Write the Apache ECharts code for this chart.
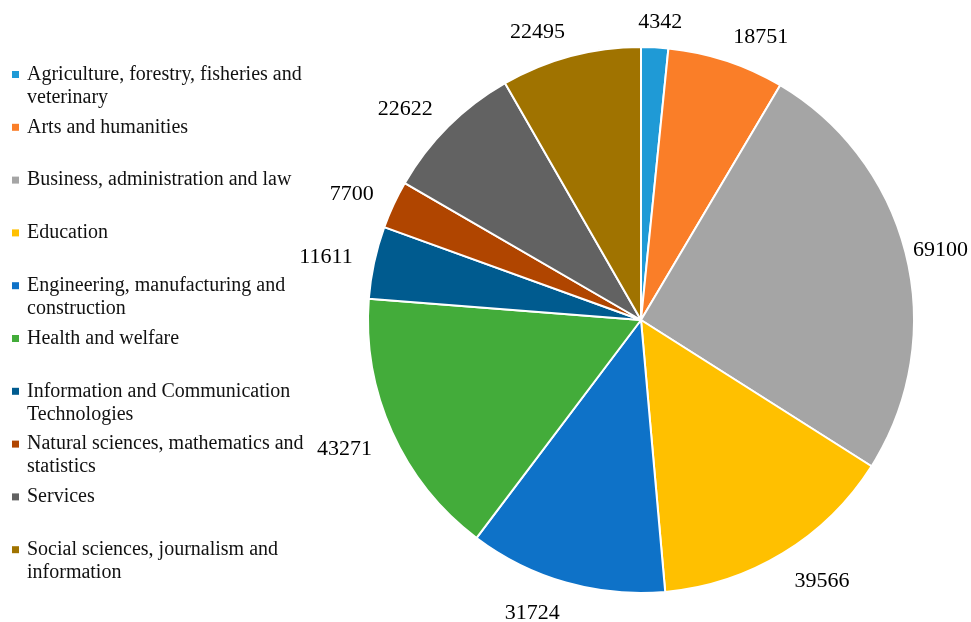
<!DOCTYPE html>
<html>
<head>
<meta charset="utf-8">
<script src="https://cdn.jsdelivr.net/npm/echarts@6/dist/echarts.min.js"></script>
<style>
  html, body { margin: 0; padding: 0; background: #fff; }
  #chart { width: 971px; height: 622px; }
</style>
</head>
<body>
<div id="chart"></div>
<script>
// Graduates by broad field of study
const categories = [
  'Agriculture, forestry, fisheries and veterinary',
  'Arts and humanities',
  'Business, administration and law',
  'Education',
  'Engineering, manufacturing and construction',
  'Health and welfare',
  'Information and Communication Technologies',
  'Natural sciences, mathematics and statistics',
  'Services',
  'Social sciences, journalism and information'
];
const values = [4342, 18751, 69100, 39566, 31724, 43271, 11611, 7700, 22622, 22495];
const colors = [
  '#1F9AD6', '#FA7E28', '#A5A5A5', '#FFC000', '#0E72C8',
  '#43AC3A', '#005B8F', '#B04500', '#626262', '#A07300'
];

const SERIF = '"Liberation Serif", "Times New Roman", serif';
const LEGEND_FONT_SIZE = 20;
const LEGEND_LINE_HEIGHT = 23;
const LEGEND_WRAP_WIDTH = 285;

// Word-wrap legend names to the legend column width
const measureCtx = document.createElement('canvas').getContext('2d');
measureCtx.font = LEGEND_FONT_SIZE + 'px ' + SERIF;
function wrapWords(text, maxWidth) {
  const words = text.split(' ');
  const lines = [];
  let line = '';
  words.forEach(function (word) {
    const trial = line ? line + ' ' + word : word;
    if (line && measureCtx.measureText(trial).width > maxWidth) {
      lines.push(line);
      line = word;
    } else {
      line = trial;
    }
  });
  if (line) lines.push(line);
  return lines;
}
// Every entry becomes a three-line block whose middle line is the first
// line of the name, so the swatch sits level with it.
function legendText(name) {
  const lines = wrapWords(name, LEGEND_WRAP_WIDTH);
  return '\n' + lines.join('\n') + (lines.length === 1 ? '\n' : '');
}

const chart = echarts.init(document.getElementById('chart'), null, { renderer: 'canvas' });

// Value labels sit just outside the rim: pushed sideways by their own width
// (less so near the vertical axis), dropped a little more on the lower half,
// and kept inside the canvas.
const GAP_X = 22;
const GAP_Y = 14;
const LOWER_DROP = 7;
const EDGE_MARGIN = 3;
function clamp(v, lo, hi) { return Math.max(lo, Math.min(hi, v)); }
function placeLabel(params) {
  const pts = params.labelLinePoints;
  if (!pts || pts.length < 2) return {};
  let ux = pts[1][0] - pts[0][0];
  let uy = pts[1][1] - pts[0][1];
  const len = Math.hypot(ux, uy) || 1;
  ux /= len; uy /= len;
  const w = params.labelRect.width;
  const h = params.labelRect.height;
  let x = pts[0][0] + ux * GAP_X + clamp(4 * ux, -1, 1) * w / 2;
  const y = pts[0][1] + uy * GAP_Y + uy * h / 2 + LOWER_DROP * clamp(4 * uy, 0, 1);
  x = clamp(x, EDGE_MARGIN + w / 2, chart.getWidth() - EDGE_MARGIN - w / 2);
  return { x: x, y: y, align: 'center', verticalAlign: 'middle' };
}

chart.setOption({
  backgroundColor: '#fff',
  animation: false,
  color: colors,
  legend: {
    orient: 'vertical',
    left: 12,
    top: 40,
    padding: 0,
    itemWidth: 7,
    itemHeight: 7,
    itemGap: -16.2,
    icon: 'rect',
    selectedMode: false,
    itemStyle: { borderWidth: 0 },
    formatter: legendText,
    textStyle: {
      fontFamily: SERIF,
      fontSize: LEGEND_FONT_SIZE,
      lineHeight: LEGEND_LINE_HEIGHT,
      color: '#111',
      padding: [0, 0, 0, 3]
    },
    data: categories
  },
  series: [{
    type: 'pie',
    center: [641, 320],
    radius: 273,
    startAngle: 90,
    clockwise: true,
    avoidLabelOverlap: false,
    silent: true,
    itemStyle: { borderColor: '#fff', borderWidth: 2 },
    label: {
      show: true,
      position: 'outside',
      formatter: '{c}',
      fontFamily: SERIF,
      fontSize: 22,
      color: '#000'
    },
    labelLine: {
      show: true,
      length: 10,
      length2: 1,
      lineStyle: { opacity: 0 }
    },
    labelLayout: placeLabel,
    data: categories.map(function (name, i) {
      return { name: name, value: values[i] };
    })
  }]
});
</script>
</body>
</html>
